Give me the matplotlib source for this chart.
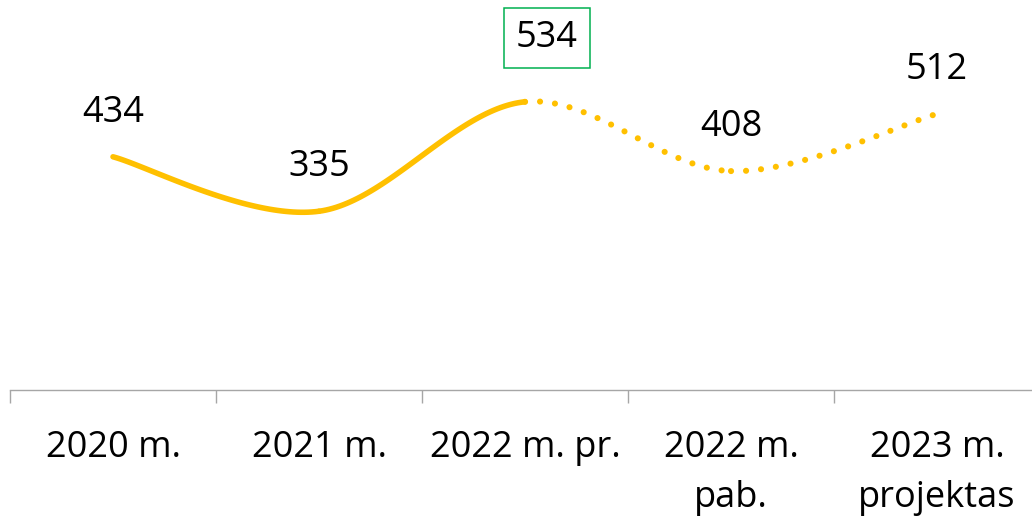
import numpy as np
import matplotlib.pyplot as plt
from matplotlib.transforms import blended_transform_factory

categories = ['2020 m.', '2021 m.', '2022 m. pr.', '2022 m.\npab.', '2023 m.\nprojektas']
values = [434, 335, 534, 408, 512]
solid_until = 2  # segments after this index are forecast (dotted)
boxed_index = 2

LINE_COLOR = '#FFC000'
AXIS_COLOR = '#A6A6A6'
BOX_COLOR = '#00B050'

plt.rcParams['font.family'] = ['Open Sans', 'DejaVu Sans']


def catmull_segment(p0, p1, p2, p3, n=60):
    t = np.linspace(0, 1, n)[:, None]
    return 0.5 * ((2 * p1) + (-p0 + p2) * t + (2 * p0 - 5 * p1 + 4 * p2 - p3) * t ** 2
                  + (-p0 + 3 * p1 - 3 * p2 + p3) * t ** 3)


def smooth(xs, ys, i):
    pts = np.column_stack([xs, ys]).astype(float)
    pts = np.vstack([pts[0], pts, pts[-1]])
    return catmull_segment(pts[i], pts[i + 1], pts[i + 2], pts[i + 3])


fig = plt.figure(figsize=(10.32, 5.2), dpi=100)
ax = fig.add_axes([10 / 1032, 0.25, 1030 / 1032, 379.5 / 520])
ax.set_xlim(-0.5, 4.5)
ax.set_ylim(10, 700)

x = np.arange(len(values))
for i in range(len(values) - 1):
    seg = smooth(x, values, i)
    if i < solid_until:
        ax.plot(seg[:, 0], seg[:, 1], color=LINE_COLOR, lw=4.0, solid_capstyle='round')
    else:
        ax.plot(seg[:, 0], seg[:, 1], color=LINE_COLOR, lw=4.4,
                linestyle=(0, (0.01, 2.45)), dash_capstyle='round')

for i, v in enumerate(values):
    if i == boxed_index:
        ax.annotate(str(v), (i, v), xytext=(22, 64), textcoords='offset pixels',
                    ha='center', va='center', fontsize=26,
                    bbox=dict(boxstyle='square,pad=0.33', fc='white', ec=BOX_COLOR, lw=1.1))
    else:
        ax.annotate(str(v), (i, v), xytext=(0, 44), textcoords='offset pixels',
                    ha='center', va='center', fontsize=26)

for s in ['top', 'left', 'right']:
    ax.spines[s].set_visible(False)
ax.spines['bottom'].set_color(AXIS_COLOR)
ax.spines['bottom'].set_linewidth(1.0)
ax.set_yticks([])
ax.set_xticks(np.arange(-0.5, 5.0, 1.0))
ax.set_xticklabels([])
ax.tick_params(axis='x', length=9.4, width=1.0, color=AXIS_COLOR)

trans = blended_transform_factory(ax.transData, fig.transFigure)
for i, lab in enumerate(categories):
    ax.text(i, 1 - 430 / 520, lab, transform=trans, ha='center', va='top',
            fontsize=26, linespacing=1.5)

fig.savefig('out.png', dpi=100)
